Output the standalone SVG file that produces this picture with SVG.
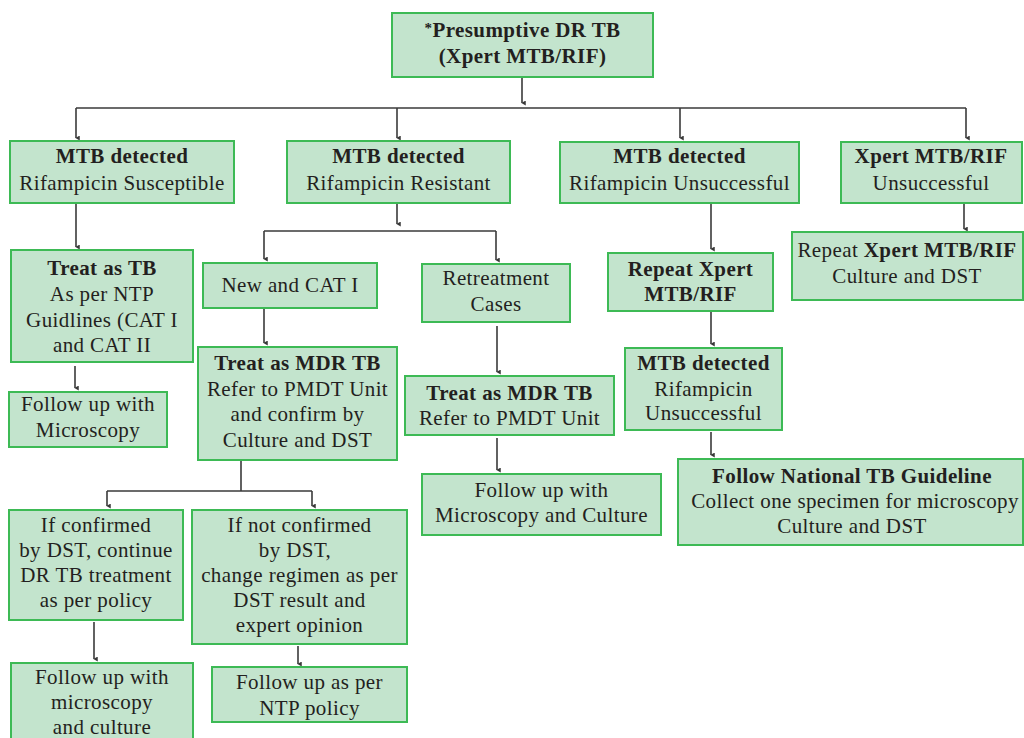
<svg xmlns="http://www.w3.org/2000/svg" width="1024" height="738" viewBox="0 0 1024 738">
<style>
.box{fill:#c3e4cd;stroke:#3dba55;stroke-width:2}
text{font-family:'Liberation Serif','DejaVu Serif',serif;font-size:21px;fill:#231f20;text-anchor:middle;letter-spacing:0.4px}
.b{font-weight:bold}
.ln{fill:none;stroke:#3a3a3a;stroke-width:1.6}
</style>
<defs>
<marker id="ah" viewBox="0 0 8 8" refX="4" refY="7" markerWidth="5" markerHeight="5" orient="auto-start-reverse" markerUnits="userSpaceOnUse">
<path d="M0,1 L4,8 L8,1 Z" fill="#3a3a3a"/>
</marker>
</defs>
<rect width="1024" height="738" fill="#ffffff"/>
<g id="connectors">
<path class="ln" d="M522,78 V103" marker-end="url(#ah)"/>
<path class="ln" d="M76,108 H966"/>
<path class="ln" d="M76,108 V138" marker-end="url(#ah)"/>
<path class="ln" d="M397,108 V138" marker-end="url(#ah)"/>
<path class="ln" d="M680,108 V138" marker-end="url(#ah)"/>
<path class="ln" d="M966,108 V138" marker-end="url(#ah)"/>
<path class="ln" d="M76,204 V247" marker-end="url(#ah)"/>
<path class="ln" d="M397,204 V224" marker-end="url(#ah)"/>
<path class="ln" d="M264,231 H496"/>
<path class="ln" d="M264,231 V259" marker-end="url(#ah)"/>
<path class="ln" d="M496,231 V260" marker-end="url(#ah)"/>
<path class="ln" d="M711,204 V249" marker-end="url(#ah)"/>
<path class="ln" d="M964,204 V229" marker-end="url(#ah)"/>
<path class="ln" d="M75,366 V388" marker-end="url(#ah)"/>
<path class="ln" d="M264,309 V343" marker-end="url(#ah)"/>
<path class="ln" d="M497,326 V372" marker-end="url(#ah)"/>
<path class="ln" d="M497,438 V470" marker-end="url(#ah)"/>
<path class="ln" d="M711,312 V344" marker-end="url(#ah)"/>
<path class="ln" d="M711,432 V455" marker-end="url(#ah)"/>
<path class="ln" d="M241,461 V491"/>
<path class="ln" d="M107,491 H312"/>
<path class="ln" d="M107,491 V506" marker-end="url(#ah)"/>
<path class="ln" d="M312,491 V506" marker-end="url(#ah)"/>
<path class="ln" d="M94,622 V659" marker-end="url(#ah)"/>
<path class="ln" d="M298,646 V664" marker-end="url(#ah)"/>
</g>
<g id="n-top">
<rect class="box" x="392" y="13" width="261" height="64"/>
<text x="522.5" y="37" class="b"><tspan font-size="15" dy="-4">*</tspan><tspan dy="4">Presumptive DR TB</tspan></text>
<text x="522.5" y="63" class="b">(Xpert MTB/RIF)</text>
</g>
<g id="n-susceptible">
<rect class="box" x="10" y="141" width="224" height="62"/>
<text x="122" y="163" class="b">MTB detected</text>
<text x="122" y="190">Rifampicin Susceptible</text>
</g>
<g id="n-resistant">
<rect class="box" x="287" y="141" width="223" height="62"/>
<text x="398.5" y="163" class="b">MTB detected</text>
<text x="398.5" y="190">Rifampicin Resistant</text>
</g>
<g id="n-unsuccessful">
<rect class="box" x="560" y="142" width="239" height="61"/>
<text x="679.5" y="163" class="b">MTB detected</text>
<text x="679.5" y="190">Rifampicin Unsuccessful</text>
</g>
<g id="n-xpert-unsuccessful">
<rect class="box" x="841" y="142" width="181" height="61"/>
<text x="931" y="163" class="b">Xpert MTB/RIF</text>
<text x="931" y="190">Unsuccessful</text>
</g>
<g id="n-treat-tb">
<rect class="box" x="11" y="250" width="182" height="112"/>
<text x="102" y="275" class="b">Treat as TB</text>
<text x="102" y="301">As per NTP</text>
<text x="102" y="327">Guidlines (CAT I</text>
<text x="102" y="352">and CAT II</text>
</g>
<g id="n-followup-microscopy">
<rect class="box" x="9" y="392" width="158" height="55"/>
<text x="88" y="411">Follow up with</text>
<text x="88" y="437">Microscopy</text>
</g>
<g id="n-new-cat1">
<rect class="box" x="203" y="263" width="174" height="45"/>
<text x="290" y="292">New and CAT I</text>
</g>
<g id="n-treat-mdr1">
<rect class="box" x="198" y="347" width="199" height="113"/>
<text x="297.5" y="370" class="b">Treat as MDR TB</text>
<text x="297.5" y="396">Refer to PMDT Unit</text>
<text x="297.5" y="421">and confirm by</text>
<text x="297.5" y="447">Culture and DST</text>
</g>
<g id="n-retreatment">
<rect class="box" x="422" y="264" width="148" height="58"/>
<text x="496" y="285">Retreatment</text>
<text x="496" y="311">Cases</text>
</g>
<g id="n-treat-mdr2">
<rect class="box" x="405" y="376" width="209" height="59"/>
<text x="509.5" y="400" class="b">Treat as MDR TB</text>
<text x="509.5" y="425">Refer to PMDT Unit</text>
</g>
<g id="n-followup-micro-culture">
<rect class="box" x="422" y="474" width="239" height="61"/>
<text x="541.5" y="497">Follow up with</text>
<text x="541.5" y="522">Microscopy and Culture</text>
</g>
<g id="n-repeat-xpert">
<rect class="box" x="608" y="253" width="165" height="58"/>
<text x="690.5" y="276" class="b">Repeat Xpert</text>
<text x="690.5" y="301" class="b">MTB/RIF</text>
</g>
<g id="n-mtb-unsuccessful2">
<rect class="box" x="625" y="348" width="157" height="82"/>
<text x="703.5" y="370" class="b">MTB detected</text>
<text x="703.5" y="396">Rifampicin</text>
<text x="703.5" y="420">Unsuccessful</text>
</g>
<g id="n-repeat-culture">
<rect class="box" x="792" y="232" width="231" height="68"/>
<text x="907" y="257">Repeat <tspan class="b">Xpert MTB/RIF</tspan></text>
<text x="907" y="283">Culture and DST</text>
</g>
<g id="n-national-guideline">
<rect class="box" x="678" y="459" width="345" height="86"/>
<text x="852" y="483" class="b">Follow National TB Guideline</text>
<text x="855" y="508">Collect one specimen for microscopy</text>
<text x="852" y="533">Culture and DST</text>
</g>
<g id="n-if-confirmed">
<rect class="box" x="9" y="510" width="174" height="110"/>
<text x="96" y="532">If confirmed</text>
<text x="96" y="557">by DST, continue</text>
<text x="96" y="582">DR TB treatment</text>
<text x="96" y="607">as per policy</text>
</g>
<g id="n-if-not-confirmed">
<rect class="box" x="192" y="510" width="215" height="134"/>
<text x="299.5" y="532">If not confirmed</text>
<text x="295" y="557">by DST,</text>
<text x="299.5" y="582">change regimen as per</text>
<text x="299.5" y="607">DST result and</text>
<text x="299.5" y="632">expert opinion</text>
</g>
<g id="n-followup-micro-culture2">
<rect class="box" x="11" y="663" width="182" height="90"/>
<text x="102" y="684">Follow up with</text>
<text x="102" y="709">microscopy</text>
<text x="102" y="734">and culture</text>
</g>
<g id="n-followup-ntp">
<rect class="box" x="212" y="667" width="195" height="55"/>
<text x="309.5" y="689">Follow up as per</text>
<text x="309.5" y="715">NTP policy</text>
</g>
</svg>
